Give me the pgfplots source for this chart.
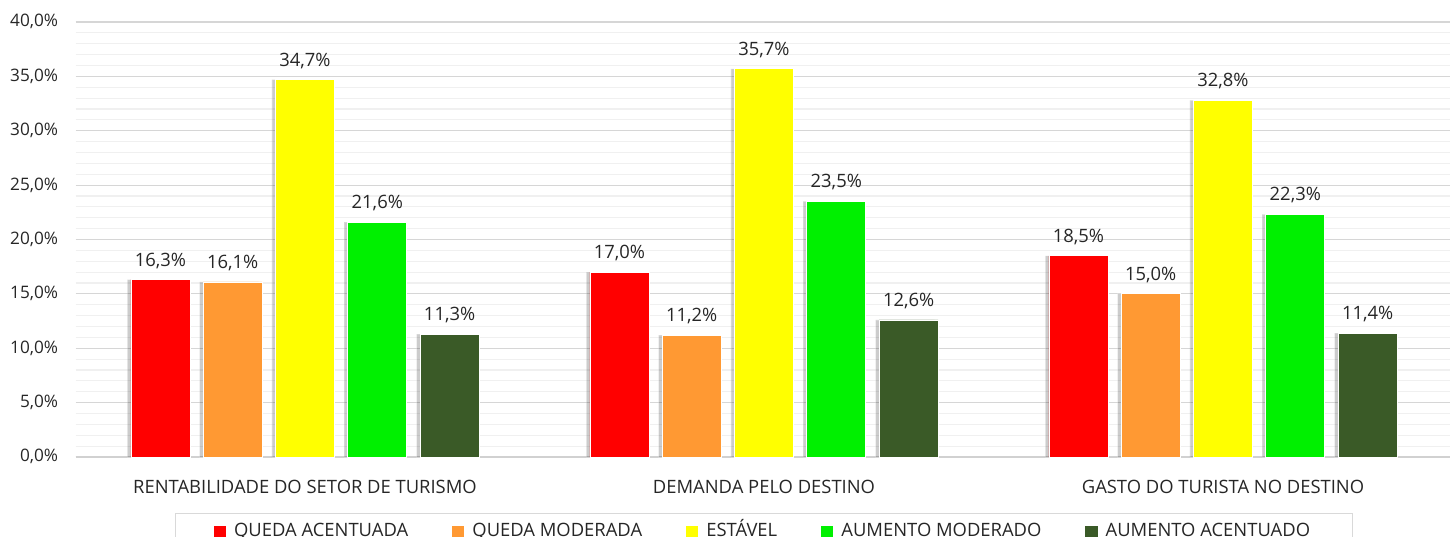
\documentclass[border=0pt]{standalone}
\usepackage{fontspec}
\setmainfont{Open Sans}
\usepackage{pgfplots}
\pgfplotsset{compat=1.18}
\usetikzlibrary{shadows}
\definecolor{cRed}{HTML}{FF0000}
\definecolor{cOrange}{HTML}{FF9933}
\definecolor{cYellow}{HTML}{FFFF00}
\definecolor{cGreen}{HTML}{00F000}
\definecolor{cDark}{HTML}{3A5A27}
\definecolor{txt}{HTML}{262626}
\pgfplotsset{
  mybar/.style={fill=#1, draw=white, line width=0.4pt,
    drop shadow={shadow xshift=-1.8pt, shadow yshift=0pt, opacity=0.2, fill=black}},
  leg/.style={legend image code/.code={\fill[#1] (0pt,-0.5pt) rectangle (5.5pt,5pt);}},
}
\begin{document}
\fontsize{9.2}{11}\selectfont
\begin{tikzpicture}
\path[use as bounding box] (0,0) rectangle (725pt,268pt);
\begin{axis}[
  at={(37.75pt,39.5pt)}, anchor=south west,
  scale only axis, width=688.5pt, height=217.5pt,
  xmin=-0.5, xmax=2.5, ymin=0, ymax=40,
  ybar, bar width=29.5pt,
  separate axis lines,
  axis x line*=bottom, axis y line*=left,
  x axis line style={draw=black!18, line width=0.7pt},
  y axis line style={draw=none},
  xtick={0,1,2},
  xticklabels={RENTABILIDADE DO SETOR DE TURISMO, DEMANDA PELO DESTINO, GASTO DO TURISTA NO DESTINO},
  ytick={0,5,...,40}, minor y tick num=4,
  major tick length=0pt, minor tick length=0pt, tick style={draw=none},
  ymajorgrids, yminorgrids,
  major grid style={draw=black!16, line width=0.6pt},
  minor grid style={draw=black!6, line width=0.6pt},
  /pgf/number format/assume math mode=true,
  yticklabel={\pgfmathprintnumber[fixed,fixed zerofill,precision=1,use comma]{\tick}\%},
  yticklabel style={anchor=mid east, inner sep=0pt, xshift=-8.5pt, text=txt, font=\fontsize{8.6}{10}\selectfont},
  xticklabel style={anchor=base, inner sep=0pt, yshift=-18.2pt, text=txt},
  nodes near coords={\pgfmathprintnumber[fixed,fixed zerofill,precision=1,use comma]{\pgfplotspointmeta}\%},
  nodes near coords style={anchor=base, inner sep=0pt, yshift=6.8pt, text=txt},
  legend columns=5,
  legend style={at={(0.5,-0.1287)}, anchor=north, draw=black!15, line width=0.6pt,
    fill=white, inner xsep=19pt, inner ysep=2pt, text=txt,
    nodes={text height=7.6pt, text depth=2.2pt, anchor=base west},
    /tikz/every even column/.append style={column sep=20pt},
    /tikz/every odd column/.append style={column sep=2pt}},
]
\addplot[mybar=cRed, bar shift=-72.3pt, forget plot] coordinates {(0,16.3) (1,17.0) (2,18.5)};
\addplot[mybar=cOrange, bar shift=-36.15pt, forget plot] coordinates {(0,16.1) (1,11.2) (2,15.0)};
\addplot[mybar=cYellow, bar shift=0pt, forget plot] coordinates {(0,34.7) (1,35.7) (2,32.8)};
\addplot[mybar=cGreen, bar shift=36.15pt, forget plot] coordinates {(0,21.6) (1,23.5) (2,22.3)};
\addplot[mybar=cDark, bar shift=72.3pt, forget plot] coordinates {(0,11.3) (1,12.6) (2,11.4)};
\addlegendimage{leg=cRed}
\addlegendentry{QUEDA ACENTUADA}
\addlegendimage{leg=cOrange}
\addlegendentry{QUEDA MODERADA}
\addlegendimage{leg=cYellow}
\addlegendentry{ESTÁVEL}
\addlegendimage{leg=cGreen}
\addlegendentry{AUMENTO MODERADO}
\addlegendimage{leg=cDark}
\addlegendentry{AUMENTO ACENTUADO}
\end{axis}
\end{tikzpicture}
\end{document}
